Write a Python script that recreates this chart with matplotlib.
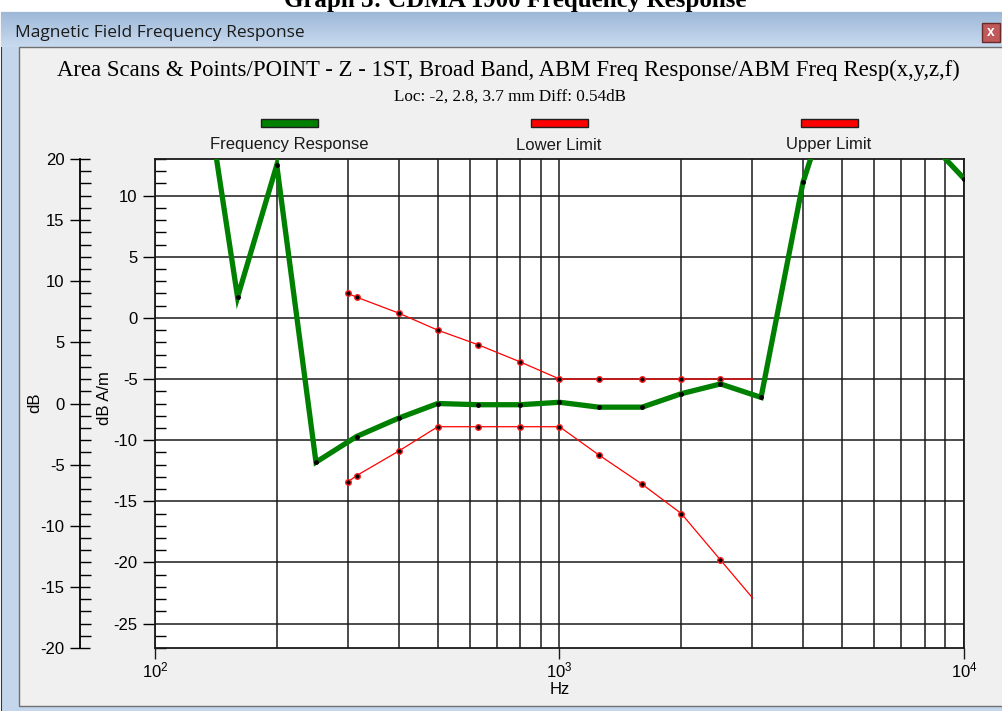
import numpy as np
import matplotlib
matplotlib.use("Agg")
import matplotlib.pyplot as plt
from matplotlib.patches import Rectangle
from matplotlib.ticker import MultipleLocator, LogLocator, NullFormatter

plt.rcParams['font.family'] = ['Liberation Sans', 'DejaVu Sans']
plt.rcParams['mathtext.fontset'] = 'custom'
plt.rcParams['mathtext.rm'] = 'Liberation Sans'
plt.rcParams['mathtext.it'] = 'Liberation Sans'
plt.rcParams['axes.unicode_minus'] = False

# data (dB A/m)
resp_hz = [125, 160, 200, 250, 315, 400, 500, 630, 800, 1000, 1250, 1600,
           2000, 2500, 3150, 4000, 5000, 6300, 8000, 10000]
resp_db = [25.0, 1.7, 12.5, -11.8, -9.7, -8.2, -7.0, -7.1, -7.1, -6.9, -7.3, -7.3,
           -6.2, -5.4, -6.5, 11.1, 21.0, 18.0, 14.8, 11.4]

limit_hz = [300, 315, 400, 500, 630, 800, 1000, 1250, 1600, 2000, 2500, 3000]
upper_db = [2.0, 1.7, 0.4, -1.0, -2.2, -3.6, -5.0, -5.0, -5.0, -5.0, -5.0, -5.0]
lower_db = [-13.4, -12.9, -10.9, -8.9, -8.9, -8.9, -8.9, -11.2, -13.6, -16.0, -19.8, -22.9]

legend_names = ['Frequency Response', 'Lower Limit', 'Upper Limit']
legend_colors = ['#008000', '#ff0000', '#ff0000']
dB_offset = 7

W, H = 1003, 711
fig = plt.figure(figsize=(W / 100, H / 100), dpi=100)

# window frame in pixel coordinates
bg = fig.add_axes([0, 0, 1, 1], zorder=-5)
bg.set_xlim(0, W)
bg.set_ylim(H, 0)
bg.axis('off')
bg.add_patch(Rectangle((0, 0), W, H, color='white'))
bg.add_patch(Rectangle((1, 12), W + 5, H, facecolor='#c4d6ec', edgecolor='#3a3a3a', lw=0.8))
grad = np.linspace(0, 1, 40).reshape(-1, 1)
bg.imshow(grad, extent=(1.5, W, 47, 12.5), cmap=matplotlib.colors.LinearSegmentedColormap.from_list(
    'bar', ['#9db8d8', '#c9dbef']), aspect='auto', zorder=1)
bg.add_patch(Rectangle((19, 47), W + 10, 659, facecolor='#f0f0f0', edgecolor='#707070', lw=1.0, zorder=2))
bg.add_patch(Rectangle((982, 23), 18, 19, facecolor='#c05a5a', edgecolor='#6b2a2a', lw=1.0, zorder=3))
bg.text(991, 32.5, 'x', color='white', fontsize=10, fontweight='bold', ha='center', va='center', zorder=4)
bg.text(15, 33, 'Magnetic Field Frequency Response', fontsize=12.5, family='Open Sans',
        va='center', ha='left', color='#1a1a1a', zorder=4)
bg.text(515, 7, 'Graph 3: CDMA 1900 Frequency Response', fontsize=18, family='Liberation Serif',
        fontweight='bold', ha='center', va='baseline', zorder=4)
bg.text(508, 70, 'Area Scans & Points/POINT - Z - 1ST, Broad Band, ABM Freq Response/ABM Freq Resp(x,y,z,f)',
        fontsize=16.4, family='Liberation Serif', ha='center', va='center', zorder=4)
bg.text(510, 97, 'Loc: -2, 2.8, 3.7 mm Diff: 0.54dB', fontsize=12.3, family='Liberation Serif',
        ha='center', va='center', zorder=4)

# legend: bar above each name
for cx, name, col in zip([289, 559, 829], legend_names, legend_colors):
    bg.add_patch(Rectangle((cx - 28, 119), 57, 8, facecolor=col, edgecolor='#202020', lw=1.0, zorder=4))
    bg.text(cx, 145, name, fontsize=12, ha='center', va='center', color='#1a1a1a', zorder=4)

bg.text(35, 403, 'dB', fontsize=12, rotation=90, ha='center', va='center', zorder=4)
bg.text(105, 398, 'dB A/m', fontsize=12, rotation=90, ha='center', va='center', zorder=4)
bg.text(560, 690, 'Hz', fontsize=12, ha='center', va='center', zorder=4)

# main plot
ax = fig.add_axes([155 / W, 1 - 648 / H, 809 / W, 489 / H])
ax.set_facecolor('white')
ax.plot(resp_hz, resp_db, color='#008000', lw=3.8, solid_joinstyle='miter', zorder=4,
        marker='o', ms=2.5, mfc='black', mec='black')
ax.plot(limit_hz, upper_db, color='#ff0000', lw=0.9, zorder=3,
        marker='o', ms=4, mfc='black', mec='#ff2020', mew=1.0, markevery=slice(0, -1))
ax.plot(limit_hz, lower_db, color='#ff0000', lw=0.9, zorder=3,
        marker='o', ms=4, mfc='black', mec='#ff2020', mew=1.0, markevery=slice(0, -1))

ax.set_xscale('log')
ax.set_xlim(100, 10000)
ax.set_ylim(-27, 13)
ax.xaxis.set_minor_locator(LogLocator(base=10, subs=np.arange(2, 10)))
ax.xaxis.set_minor_formatter(NullFormatter())
ax.yaxis.set_major_locator(MultipleLocator(5))
ax.yaxis.set_minor_locator(MultipleLocator(1))
ax.grid(True, which='both', axis='x', color='#1a1a1a', lw=1.1)
ax.grid(True, which='major', axis='y', color='#1a1a1a', lw=1.1)
ax.tick_params(axis='x', which='major', direction='out', length=8, width=1, color='#1a1a1a',
               labelsize=12, pad=1)
ax.tick_params(axis='x', which='minor', length=0)
ax.tick_params(axis='y', which='major', direction='out', length=9, width=1, labelsize=12)
ax.tick_params(axis='y', which='minor', direction='in', length=8, width=1)
for s in ax.spines.values():
    s.set_color('#1a1a1a')
    s.set_linewidth(1.3)

sec = ax.secondary_yaxis((80 - 155) / 809, functions=(lambda v: v + dB_offset, lambda v: v - dB_offset))
sec.yaxis.set_major_locator(MultipleLocator(5))
sec.yaxis.set_minor_locator(MultipleLocator(1))
sec.tick_params(axis='y', which='major', direction='inout', length=15, width=1, labelsize=12)
sec.tick_params(axis='y', which='minor', direction='in', length=8, width=1)
sec.spines['left'].set_linewidth(1.3)

fig.savefig('out.png', dpi=100)
